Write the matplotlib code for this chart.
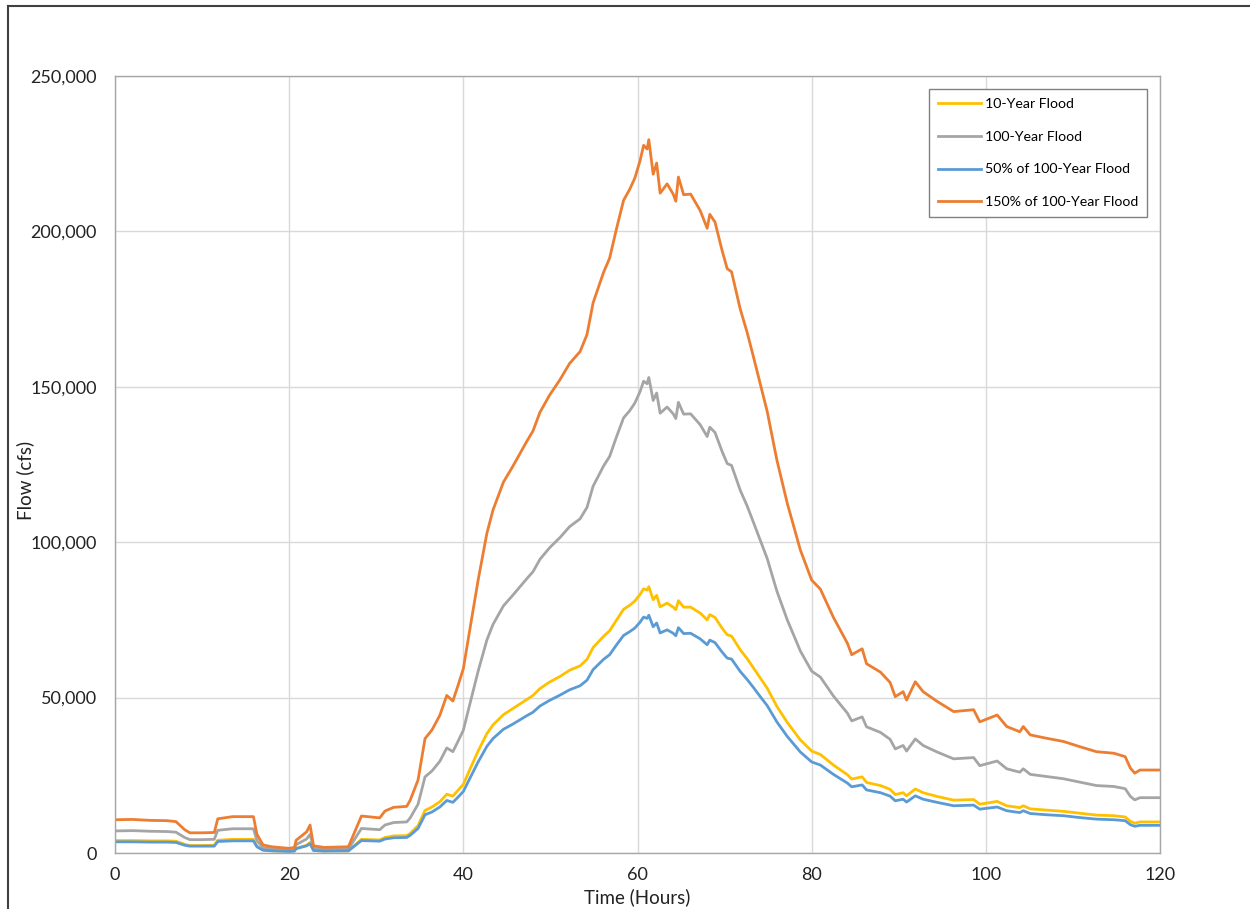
import matplotlib.pyplot as plt
from matplotlib.lines import Line2D
from matplotlib.ticker import FuncFormatter

plt.rcParams['font.family'] = ['Lato', 'DejaVu Sans']

# Hydrograph values (time in hours, flow in cfs)
hours = [0, 2, 4, 6, 7, 8, 8.6, 10, 11.4, 11.8, 13.5, 15.9, 16.3, 17, 18, 20,
         20.6, 20.8, 22, 22.4, 22.8, 24, 26.8, 28.3, 30.4, 31, 32, 33.5, 33.9,
         34.8, 35.6, 36.4, 37.3, 38.1, 38.8, 39.4, 40, 40.8, 41.7, 42.7, 43.4,
         44.6, 45.7, 47.3, 48, 48.8, 49.9, 51.1, 52.2, 53.4, 54.2, 54.9, 56.1,
         56.8, 57.6, 58.4, 59.1, 59.7, 60.3, 60.7, 61.1, 61.3, 61.8, 62.2, 62.6,
         63.4, 64.1, 64.4, 64.7, 65.3, 66.1, 67.2, 68, 68.3, 68.9, 69.7, 70.3,
         70.8, 71.8, 72.6, 73.3, 74.1, 74.9, 76, 77.2, 78.7, 80, 81, 82.5, 84.1,
         84.6, 85.8, 86.3, 87.9, 89, 89.6, 90.5, 90.9, 91.9, 92.8, 94.4, 96.3,
         98.6, 99.3, 101.3, 102.4, 103.9, 104.3, 105.1, 107, 108.9, 110.8,
         112.7, 114.7, 116, 116.6, 117.1, 117.7, 120]

flood_10yr = [4000, 4000, 3900, 3900, 3800, 2800, 2400, 2400, 2500, 4100, 4400,
              4400, 2200, 1000, 700, 600, 700, 1500, 2500, 3400, 800, 700, 700,
              4400, 4200, 5000, 5500, 5600, 6300, 8800, 13700, 14800, 16500,
              18900, 18300, 20200, 22100, 27200, 32800, 38400, 41200, 44500,
              46500, 49400, 50700, 52900, 55000, 56800, 58800, 60200, 62300,
              66100, 69700, 71500, 75000, 78400, 79700, 81100, 83200, 85000,
              84600, 85700, 81500, 82900, 79200, 80400, 79100, 78300, 81200,
              79100, 79100, 77200, 75000, 76700, 75800, 72400, 70200, 69800,
              65400, 62500, 59600, 56300, 53000, 47200, 42000, 36400, 32800,
              31700, 28300, 25200, 23800, 24500, 22700, 21700, 20500, 18800,
              19400, 18400, 20600, 19400, 18200, 17000, 17200, 15700, 16600,
              15200, 14600, 15200, 14200, 13800, 13400, 12800, 12200, 12000,
              11600, 10200, 9600, 10000, 10000]

flood_100yr = [7100, 7200, 7000, 6900, 6700, 5000, 4300, 4300, 4400, 7300, 7800,
               7800, 4000, 1700, 1300, 1000, 1200, 2700, 4500, 6000, 1500, 1200,
               1300, 7900, 7500, 9000, 9800, 10000, 11300, 15700, 24500, 26400,
               29500, 33800, 32600, 36000, 39500, 48500, 58500, 68500, 73500,
               79500, 83000, 88300, 90500, 94500, 98200, 101500, 105000, 107500,
               111200, 118000, 124500, 127600, 134000, 140000, 142300, 144800,
               148500, 151800, 151000, 153000, 145600, 148000, 141500, 143500,
               141300, 139800, 145000, 141200, 141300, 137800, 134000, 137000,
               135300, 129300, 125300, 124700, 116700, 111600, 106500, 100600,
               94700, 84300, 75000, 65000, 58500, 56600, 50500, 45000, 42500,
               43800, 40600, 38800, 36600, 33500, 34600, 32800, 36700, 34600,
               32500, 30300, 30700, 28100, 29600, 27100, 26000, 27100, 25300,
               24600, 23900, 22800, 21700, 21400, 20700, 18200, 17100, 17800,
               17800]

flood_50pct = [3600, 3600, 3500, 3500, 3400, 2500, 2200, 2200, 2200, 3700, 3900,
               3900, 2000, 900, 700, 500, 600, 1400, 2300, 3000, 800, 600, 700,
               4000, 3800, 4500, 4900, 5000, 5700, 7900, 12300, 13200, 14800,
               16900, 16300, 18000, 19800, 24300, 29300, 34300, 36800, 39800,
               41500, 44200, 45300, 47300, 49100, 50800, 52500, 53800, 55600,
               59000, 62300, 63800, 67000, 70000, 71200, 72400, 74300, 75900,
               75500, 76500, 72800, 74000, 70800, 71800, 70700, 69900, 72500,
               70600, 70700, 68900, 67000, 68500, 67700, 64700, 62700, 62400,
               58400, 55800, 53300, 50300, 47400, 42200, 37500, 32500, 29300,
               28300, 25300, 22500, 21300, 21900, 20300, 19400, 18300, 16800,
               17300, 16400, 18400, 17300, 16300, 15200, 15400, 14100, 14800,
               13600, 13000, 13600, 12700, 12300, 12000, 11400, 10900, 10700,
               10400, 9100, 8600, 8900, 8900]

flood_150pct = [10700, 10800, 10500, 10400, 10100, 7500, 6500, 6500, 6600, 11000,
                11700, 11700, 6000, 2600, 2000, 1500, 1800, 4100, 6800, 9000,
                2300, 1800, 2000, 11900, 11300, 13500, 14700, 15000, 17000,
                23500, 36800, 39600, 44300, 50700, 48900, 54000, 59300, 72800,
                87800, 102800, 110300, 119300, 124500, 132500, 135800, 141800,
                147300, 152300, 157500, 161300, 166800, 177000, 186800, 191400,
                201000, 210000, 213500, 217200, 222800, 227700, 226500, 229500,
                218400, 222000, 212300, 215300, 212000, 209700, 217500, 211800,
                212000, 206700, 201000, 205500, 203000, 194000, 188000, 187000,
                175000, 167400, 159800, 150900, 142000, 126500, 112500, 97500,
                87800, 84900, 75800, 67500, 63800, 65700, 60900, 58200, 54900,
                50300, 51900, 49200, 55100, 51900, 48800, 45500, 46100, 42200,
                44400, 40700, 39000, 40700, 38000, 36900, 35900, 34200, 32600,
                32100, 31000, 27300, 25700, 26700, 26700]

series = [
    ("10-Year Flood", flood_10yr, "#FFC000"),
    ("100-Year Flood", flood_100yr, "#A5A5A5"),
    ("50% of 100-Year Flood", flood_50pct, "#5B9BD5"),
    ("150% of 100-Year Flood", flood_150pct, "#ED7D31"),
]

fig = plt.figure(figsize=(12.5, 9.09), dpi=100)
ax = fig.add_axes([0.092, 0.0616, 0.836, 0.8548])

for label, values, color in series:
    ax.plot(hours, values, color=color, linewidth=2.0, label=label)

ax.set_xlim(0, 120)
ax.set_ylim(0, 250000)
ax.set_xticks(range(0, 121, 20))
ax.set_yticks(range(0, 250001, 50000))
ax.yaxis.set_major_formatter(FuncFormatter(lambda v, p: f"{int(v):,}"))
ax.tick_params(length=0, labelsize=13, colors='#222222', pad=13)
ax.tick_params(axis='x', pad=10)

ax.grid(True, color='#D9D9D9', linewidth=1.0)
ax.set_axisbelow(True)
for s in ax.spines.values():
    s.set_color('#A6A6A6')
    s.set_linewidth(1.0)

ax.set_xlabel("Time (Hours)", fontsize=13.5, color='#222222', labelpad=4)
ax.set_ylabel("Flow (cfs)", fontsize=13.5, color='#222222')
ax.yaxis.set_label_coords(-0.077, 0.48)

leg = ax.legend(loc='upper right', bbox_to_anchor=(0.988, 0.983),
                borderaxespad=0, fontsize=10.2, handlelength=3.0,
                labelspacing=1.45, fancybox=False, framealpha=1,
                borderpad=0.65, handletextpad=0.3)
leg.get_frame().set_edgecolor('#808080')
leg.get_frame().set_linewidth(1.0)

# outer frame (top and left edges)
fig.add_artist(Line2D([0.0065, 1.0], [0.9935, 0.9935], color='#404040', linewidth=1.5))
fig.add_artist(Line2D([0.0065, 0.0065], [0.0, 0.9935], color='#404040', linewidth=1.5))

fig.savefig("out.png", dpi=100)
